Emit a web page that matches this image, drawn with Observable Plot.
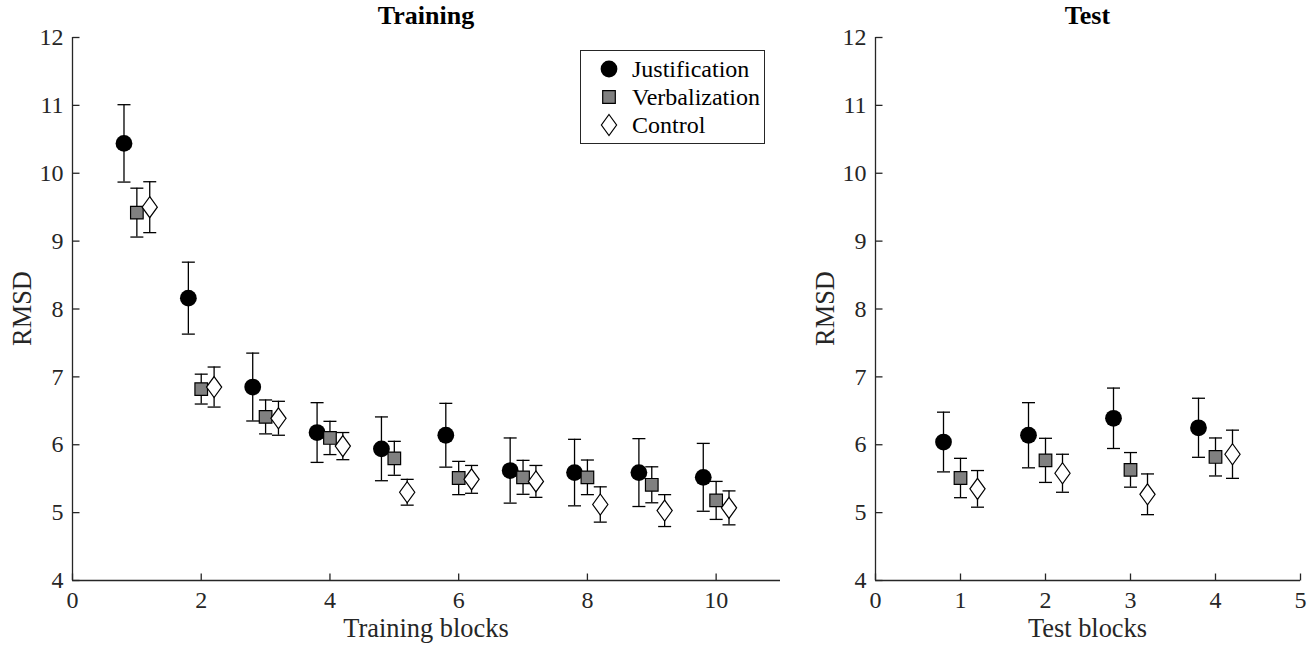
<!DOCTYPE html>
<html>
<head>
<meta charset="utf-8">
<script src="https://cdn.jsdelivr.net/npm/d3@7"></script>
<script src="https://cdn.jsdelivr.net/npm/@observablehq/plot@0.6"></script>
<style>
  html, body { margin: 0; padding: 0; background: #fff; overflow: hidden; }
  #wrap { position: relative; width: 1314px; height: 647px; font-family: "Liberation Serif", "Times New Roman", serif; color: #262626; }
  .panel { position: absolute; top: 0; }
  #overlay { position: absolute; left: 0; top: 0; pointer-events: none; overflow: visible; }
  #legend { position: absolute; left: 580px; top: 50px; width: 185px; box-sizing: border-box; border: 1px solid #262626; background: #fff; padding: 4px 0 4px 16px; font-size: 24px; color: #000; }
  #legend .row { display: flex; align-items: center; height: 28px; }
  #legend svg { width: 24px; height: 24px; margin-right: 11px; flex: none; overflow: visible; }
</style>
</head>
<body>
<div id="wrap"></div>
<script>
// ---------------- data ----------------
const groups = ["Justification", "Verbalization", "Control"];
const groupOffsets = [-0.2, 0, 0.2];

const trainBlocks = [1, 2, 3, 4, 5, 6, 7, 8, 9, 10];
const trainJustMean = [10.44, 8.16, 6.85, 6.18, 5.94, 6.14, 5.62, 5.59, 5.59, 5.52];
const trainJustErr  = [0.57, 0.53, 0.50, 0.44, 0.47, 0.47, 0.48, 0.49, 0.50, 0.50];
const trainVerbMean = [9.42, 6.82, 6.41, 6.10, 5.80, 5.51, 5.52, 5.52, 5.41, 5.18];
const trainVerbErr  = [0.36, 0.22, 0.25, 0.245, 0.25, 0.245, 0.25, 0.255, 0.265, 0.28];
const trainCtrlMean = [9.50, 6.85, 6.39, 5.98, 5.30, 5.49, 5.46, 5.12, 5.03, 5.07];
const trainCtrlErr  = [0.375, 0.295, 0.25, 0.20, 0.19, 0.205, 0.235, 0.26, 0.235, 0.25];

const testBlocks = [1, 2, 3, 4];
const testJustMean = [6.04, 6.14, 6.39, 6.25];
const testJustErr  = [0.44, 0.48, 0.445, 0.435];
const testVerbMean = [5.51, 5.77, 5.63, 5.82];
const testVerbErr  = [0.29, 0.325, 0.255, 0.28];
const testCtrlMean = [5.35, 5.58, 5.27, 5.86];
const testCtrlErr  = [0.27, 0.28, 0.30, 0.355];

const yTicks = [4, 5, 6, 7, 8, 9, 10, 11, 12];
const trainXTicks = [0, 2, 4, 6, 8, 10];
const testXTicks = [0, 1, 2, 3, 4, 5];

// ---------------- build tables ----------------
function table(blocks, means, errs) {
  return means.flatMap((m, g) => blocks.map((b, i) => ({
    group: groups[g], block: b, x: b + groupOffsets[g],
    y: m[i], lo: m[i] - errs[g][i], hi: m[i] + errs[g][i]
  })));
}
const trainData = table(trainBlocks, [trainJustMean, trainVerbMean, trainCtrlMean], [trainJustErr, trainVerbErr, trainCtrlErr]);
const testData = table(testBlocks, [testJustMean, testVerbMean, testCtrlMean], [testJustErr, testVerbErr, testCtrlErr]);

// ---------------- symbols ----------------
const capSym = { draw(c) { c.moveTo(-6.5, 0); c.lineTo(6.5, 0); } };
const tickRight = { draw(c) { c.moveTo(0, 0); c.lineTo(7, 0); } };
const tickUp = { draw(c) { c.moveTo(0, 0); c.lineTo(0, -7); } };
const squareSym = { draw(c) { c.rect(-6.3, -6.3, 12.6, 12.6); } };
const diamondSym = { draw(c) { c.moveTo(0, -10.5); c.lineTo(7.6, 0); c.lineTo(0, 10.5); c.lineTo(-7.6, 0); c.closePath(); } };
const circleSym = { draw(c) { c.moveTo(8.4, 0); c.arc(0, 0, 8.4, 0, 2 * Math.PI); } };

const FONT = '"Liberation Serif", "Times New Roman", serif';
const AXIS = "#262626";

function panel({ data, xDomain, xTicks, width, marginLeft, marginRight }) {
  const J = data.filter(d => d.group === groups[0]);
  const V = data.filter(d => d.group === groups[1]);
  const C = data.filter(d => d.group === groups[2]);
  return Plot.plot({
    width, height: 647,
    marginTop: 37, marginBottom: 67, marginLeft, marginRight,
    style: { fontFamily: FONT, fontSize: "24px", color: AXIS, background: "transparent", overflow: "visible" },
    x: { domain: xDomain, axis: null },
    y: { domain: [4, 12], axis: null },
    marks: [
      Plot.ruleX([xDomain[0]], { stroke: AXIS, strokeWidth: 1.3 }),
      Plot.ruleY([4], { stroke: AXIS, strokeWidth: 1.3 }),
      Plot.dot(yTicks, { x: () => xDomain[0], y: d => d, symbol: tickRight, fill: "none", stroke: AXIS, strokeWidth: 1.3 }),
      Plot.dot(xTicks, { x: d => d, y: () => 4, symbol: tickUp, fill: "none", stroke: AXIS, strokeWidth: 1.3 }),
      Plot.axisY({ ticks: yTicks, tickFormat: d => String(d), tickSize: 0, tickPadding: 9, label: null, fill: AXIS, fontFamily: FONT }),
      Plot.axisX({ ticks: xTicks, tickFormat: d => String(d), tickSize: 0, tickPadding: 10, label: null, fill: AXIS, fontFamily: FONT }),
      Plot.ruleX(data, { x: "x", y1: "lo", y2: "hi", stroke: "#000", strokeWidth: 1.3 }),
      Plot.dot(data, { x: "x", y: "lo", symbol: capSym, fill: "none", stroke: "#000", strokeWidth: 1.3 }),
      Plot.dot(data, { x: "x", y: "hi", symbol: capSym, fill: "none", stroke: "#000", strokeWidth: 1.3 }),
      Plot.dot(J, { x: "x", y: "y", symbol: circleSym, fill: "#000", stroke: "none" }),
      Plot.dot(V, { x: "x", y: "y", symbol: squareSym, fill: "#808080", stroke: "#000", strokeWidth: 1.2 }),
      Plot.dot(C, { x: "x", y: "y", symbol: diamondSym, fill: "#fff", stroke: "#000", strokeWidth: 1.2 })
    ]
  });
}

const wrap = document.getElementById("wrap");

const left = panel({ data: trainData, xDomain: [0, 11], xTicks: trainXTicks, width: 800, marginLeft: 72, marginRight: 20 });
left.classList.add("panel");
left.style.left = "0px";
wrap.appendChild(left);

const right = panel({ data: testData, xDomain: [0, 5], xTicks: testXTicks, width: 514, marginLeft: 75, marginRight: 14 });
right.classList.add("panel");
right.style.left = "800px";
wrap.appendChild(right);

// ---------------- titles & axis labels ----------------
const texts = [
  { t: "Training", x: 426, y: 23.5, bold: true },
  { t: "Test", x: 1087.5, y: 23.5, bold: true },
  { t: "Training blocks", x: 426, y: 637 },
  { t: "Test blocks", x: 1087.5, y: 637 },
  { t: "RMSD", x: 31, y: 308.5, rot: true },
  { t: "RMSD", x: 834, y: 308.5, rot: true }
];
const ov = d3.create("svg").attr("id", "overlay").attr("width", 1314).attr("height", 647);
ov.selectAll("text").data(texts).join("text")
  .attr("transform", d => `translate(${d.x},${d.y})` + (d.rot ? " rotate(-90)" : ""))
  .attr("text-anchor", "middle")
  .attr("font-family", FONT)
  .attr("font-size", d => d.bold ? 26 : 26.4)
  .attr("font-weight", d => d.bold ? "bold" : "normal")
  .attr("fill", d => d.bold ? "#000" : AXIS)
  .text(d => d.t);
wrap.appendChild(ov.node());

// ---------------- legend ----------------
const legendSyms = [
  { sym: circleSym, fill: "#000", stroke: "none" },
  { sym: squareSym, fill: "#808080", stroke: "#000" },
  { sym: diamondSym, fill: "#fff", stroke: "#000" }
];
const legend = d3.select(wrap).append("div").attr("id", "legend");
groups.forEach((g, i) => {
  const row = legend.append("div").attr("class", "row");
  const s = row.append("svg").attr("viewBox", "-12 -12 24 24");
  const p = d3.path();
  legendSyms[i].sym.draw(p);
  s.append("path").attr("d", p.toString()).attr("fill", legendSyms[i].fill).attr("stroke", legendSyms[i].stroke).attr("stroke-width", 1.2);
  row.append("span").text(g);
});
</script>
</body>
</html>
